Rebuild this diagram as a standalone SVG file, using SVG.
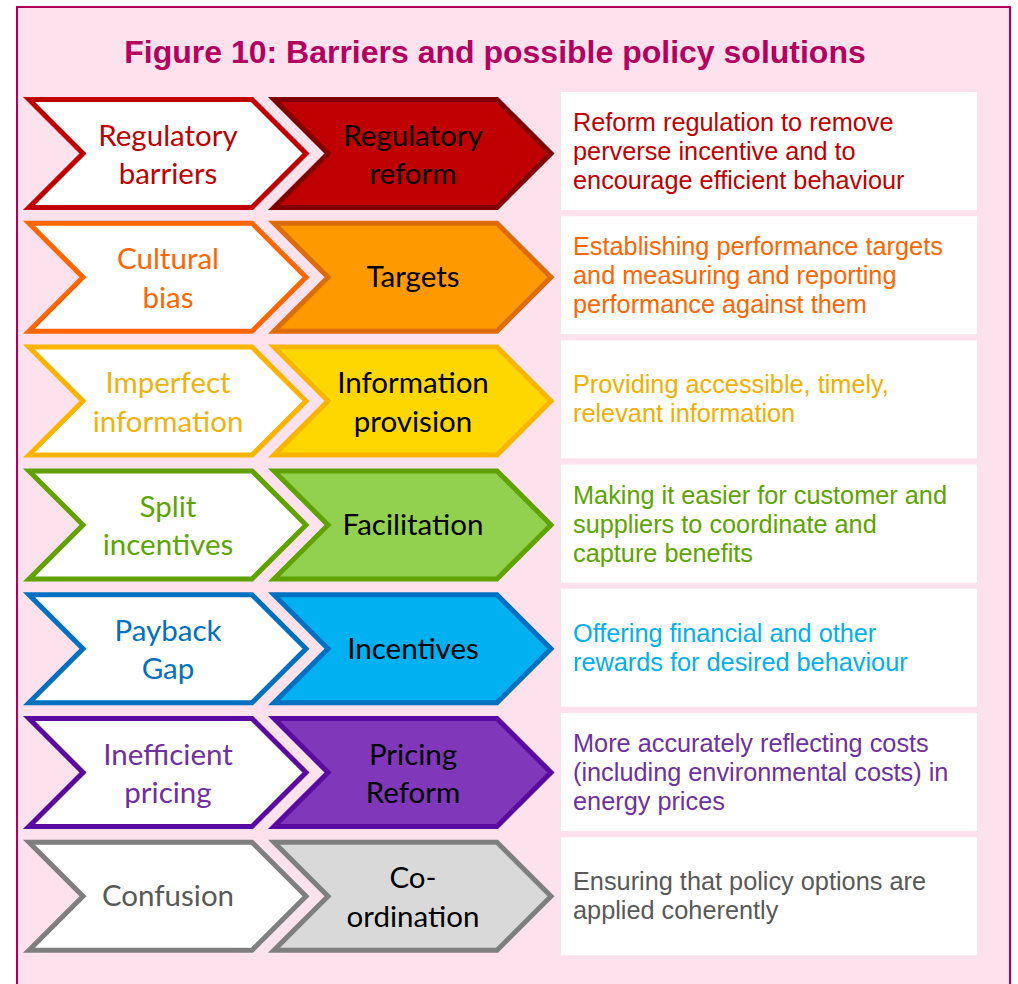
<svg xmlns="http://www.w3.org/2000/svg" xmlns:xlink="http://www.w3.org/1999/xlink" width="1018" height="984" viewBox="0 0 1018 984">
<style>
.frame{fill:#FDE1EC;stroke:#B0005A;stroke-width:2}
.title{font-family:"Liberation Sans",Arial,sans-serif;font-weight:bold;font-size:32px;fill:#B4005F;text-anchor:middle}
.chev{stroke-width:5;stroke-linejoin:miter;stroke-miterlimit:10}
.ct{font-family:Lato,"Open Sans",sans-serif;font-size:29.5px;text-anchor:middle}
.box{fill:#FFFFFF}
.dt{font-family:"Liberation Sans",Arial,sans-serif;font-size:25.3px}
</style>
<defs>
<path id="chev" d="M29,0 H252 L306,54 L252,108 H29 L83,54 Z"/>
</defs>
<rect x="0" y="0" width="1018" height="984" fill="#FFFFFF"/>
<rect class="frame" x="17" y="7" width="993" height="1000"/>
<g id="title"><text class="title" x="495" y="63">Figure 10: Barriers and possible policy solutions</text></g>

<g id="row1">
<g id="barrier-regulatory"><use xlink:href="#chev" class="chev" transform="translate(0,99.5)" fill="#FFFFFF" stroke="#C00000"/>
<text class="ct" fill="#C00000"><tspan x="168" y="145.5">Regulatory</tspan><tspan x="168" y="184">barriers</tspan></text></g>
<g id="solution-regulatory"><use xlink:href="#chev" class="chev" transform="translate(245,99.5)" fill="#C00000" stroke="#800000"/>
<text class="ct" fill="#000000"><tspan x="413" y="145.5">Regulatory</tspan><tspan x="413" y="184">reform</tspan></text></g>
<g id="desc-regulatory"><rect class="box" x="561" y="92" width="416" height="118"/>
<text class="dt" fill="#C00000"><tspan x="573" y="131">Reform regulation to remove</tspan><tspan x="573" y="160">perverse incentive and to</tspan><tspan x="573" y="189">encourage efficient behaviour</tspan></text></g>
</g>

<g id="row2">
<g id="barrier-cultural"><use xlink:href="#chev" class="chev" transform="translate(0,223.3)" fill="#FFFFFF" stroke="#FF6600"/>
<text class="ct" fill="#FF6600"><tspan x="168" y="269.3">Cultural</tspan><tspan x="168" y="307.8">bias</tspan></text></g>
<g id="solution-targets"><use xlink:href="#chev" class="chev" transform="translate(245,223.3)" fill="#FF9900" stroke="#DD6C0C"/>
<text class="ct" fill="#000000" x="413" y="287.3">Targets</text></g>
<g id="desc-targets"><rect class="box" x="561" y="216.2" width="416" height="118"/>
<text class="dt" fill="#FF6600"><tspan x="573" y="255.2">Establishing performance targets</tspan><tspan x="573" y="284.2">and measuring and reporting</tspan><tspan x="573" y="313.2">performance against them</tspan></text></g>
</g>

<g id="row3">
<g id="barrier-information"><use xlink:href="#chev" class="chev" transform="translate(0,347.1)" fill="#FFFFFF" stroke="#FBB400"/>
<text class="ct" fill="#EFB310"><tspan x="168" y="393.1">Imperfect</tspan><tspan x="168" y="431.6">information</tspan></text></g>
<g id="solution-information"><use xlink:href="#chev" class="chev" transform="translate(245,347.1)" fill="#FFD700" stroke="#F8B500"/>
<text class="ct" fill="#000000"><tspan x="413" y="393.1">Information</tspan><tspan x="413" y="431.6">provision</tspan></text></g>
<g id="desc-information"><rect class="box" x="561" y="340.4" width="416" height="118"/>
<text class="dt" fill="#F0B000"><tspan x="573" y="393.4">Providing accessible, timely,</tspan><tspan x="573" y="422.4">relevant information</tspan></text></g>
</g>

<g id="row4">
<g id="barrier-split"><use xlink:href="#chev" class="chev" transform="translate(0,470.9)" fill="#FFFFFF" stroke="#60A300"/>
<text class="ct" fill="#5DA500"><tspan x="168" y="516.9">Split</tspan><tspan x="168" y="555.4">incentives</tspan></text></g>
<g id="solution-facilitation"><use xlink:href="#chev" class="chev" transform="translate(245,470.9)" fill="#92D050" stroke="#60A300"/>
<text class="ct" fill="#000000" x="413" y="534.9">Facilitation</text></g>
<g id="desc-facilitation"><rect class="box" x="561" y="464.6" width="416" height="118"/>
<text class="dt" fill="#5DA400"><tspan x="573" y="503.6">Making it easier for customer and</tspan><tspan x="573" y="532.6">suppliers to coordinate and</tspan><tspan x="573" y="561.6">capture benefits</tspan></text></g>
</g>

<g id="row5">
<g id="barrier-payback"><use xlink:href="#chev" class="chev" transform="translate(0,594.7)" fill="#FFFFFF" stroke="#0070C0"/>
<text class="ct" fill="#0070C0"><tspan x="168" y="640.7">Payback</tspan><tspan x="168" y="679.2">Gap</tspan></text></g>
<g id="solution-incentives"><use xlink:href="#chev" class="chev" transform="translate(245,594.7)" fill="#00B0F0" stroke="#0070C0"/>
<text class="ct" fill="#000000" x="413" y="658.7">Incentives</text></g>
<g id="desc-incentives"><rect class="box" x="561" y="588.8" width="416" height="118"/>
<text class="dt" fill="#00B0F0"><tspan x="573" y="641.8">Offering financial and other</tspan><tspan x="573" y="670.8">rewards for desired behaviour</tspan></text></g>
</g>

<g id="row6">
<g id="barrier-pricing"><use xlink:href="#chev" class="chev" transform="translate(0,718.5)" fill="#FFFFFF" stroke="#5A0AA0"/>
<text class="ct" fill="#7030A0"><tspan x="168" y="764.5">Inefficient</tspan><tspan x="168" y="803">pricing</tspan></text></g>
<g id="solution-pricing"><use xlink:href="#chev" class="chev" transform="translate(245,718.5)" fill="#8037BA" stroke="#5A0AA0"/>
<text class="ct" fill="#000000"><tspan x="413" y="764.5">Pricing</tspan><tspan x="413" y="803">Reform</tspan></text></g>
<g id="desc-pricing"><rect class="box" x="561" y="713" width="416" height="118"/>
<text class="dt" fill="#7030A0"><tspan x="573" y="752">More accurately reflecting costs</tspan><tspan x="573" y="781">(including environmental costs) in</tspan><tspan x="573" y="810">energy prices</tspan></text></g>
</g>

<g id="row7">
<g id="barrier-confusion"><use xlink:href="#chev" class="chev" transform="translate(0,842.3)" fill="#FFFFFF" stroke="#7F7F7F"/>
<text class="ct" fill="#595959" x="168" y="906.3">Confusion</text></g>
<g id="solution-coordination"><use xlink:href="#chev" class="chev" transform="translate(245,842.3)" fill="#D9D9D9" stroke="#7F7F7F"/>
<text class="ct" fill="#000000"><tspan x="413" y="888.3">Co-</tspan><tspan x="413" y="926.8">ordination</tspan></text></g>
<g id="desc-coordination"><rect class="box" x="561" y="837.2" width="416" height="118"/>
<text class="dt" fill="#595959"><tspan x="573" y="890.2">Ensuring that policy options are</tspan><tspan x="573" y="919.2">applied coherently</tspan></text></g>
</g>
</svg>
